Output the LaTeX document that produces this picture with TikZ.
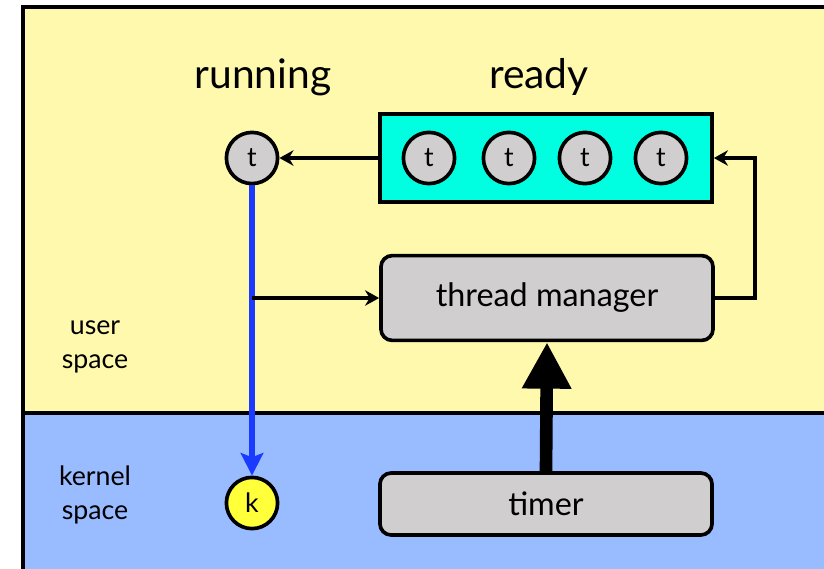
\documentclass[tikz,border=0pt]{standalone}
\usepackage{fontspec}
\setmainfont{Lato}
\usepackage{xcolor}
\definecolor{userbg}{HTML}{FFF9AD}
\definecolor{kernelbg}{HTML}{99BBFF}
\definecolor{queuebg}{HTML}{00FFE1}
\definecolor{tgrey}{HTML}{D0CECF}
\definecolor{kyellow}{HTML}{FFFF3A}
\definecolor{flowblue}{HTML}{1A3BFF}
\usetikzlibrary{arrows.meta}

\begin{document}
\begin{tikzpicture}[x=0.025cm, y=-0.025cm, >={Stealth[length=10pt, width=11pt]},
  every node/.style={font=\fontsize{23}{27}\selectfont},
  thread/.style={circle, draw, line width=2.6pt, fill=tgrey, minimum size=1.28cm, inner sep=0pt, font=\fontsize{19}{22}\selectfont},
  box/.style={draw, line width=2.6pt, fill=tgrey, rounded corners=8pt, minimum width=8.3cm}]
  \useasboundingbox (0,0) rectangle (824,568);
  \clip (0,0) rectangle (824,568);
  % user and kernel bands
  \fill[userbg] (23,7) rectangle (840,413);
  \fill[kernelbg] (23,413) rectangle (840,580);
  \draw[line width=2.8pt] (23,580) -- (23,7) -- (840,7);
  \draw[line width=2.8pt] (23,413) -- (840,413);
  \node[align=center, font=\fontsize{19}{24}\selectfont] (user) at (95,347) {user\\space};
  \node[align=center, font=\fontsize{19}{24}\selectfont] (kernel) at (95,495) {kernel\\space};

  % titles
  \node[font=\fontsize{29}{32}\selectfont] (running) at (263,77) {running};
  \node[font=\fontsize{29}{32}\selectfont] (ready) at (539,77) {ready};

  % ready queue with its threads
  \node[draw, line width=2.6pt, fill=queuebg, minimum width=8.3cm, minimum height=2.2cm] (queue) at (546,158) {};
  \foreach \x [count=\i] in {429,509,585,661}
    \node[thread] (t\i) at (\x,158) {t};

  % running thread and kernel thread
  \node[thread] (run) at (252,158) {t};
  \node[thread, fill=kyellow] (kern) at (252,503) {k};

  % thread manager and timer
  \node[box, minimum height=2.12cm] (manager) at (547,298) {thread manager};
  \node[box, minimum height=1.55cm] (timer) at (546,504) {timer};

  % connectors
  \draw[->, line width=2.4pt] (queue.west) -- (run.east);
  \draw[->, line width=2.4pt] (manager.east) -- ++(40,0) |- (queue.east);
  \draw[-{Stealth[length=16pt, width=16pt, inset=3pt]}, line width=3.8pt, flowblue] (run.south) -- (kern.north);
  \coordinate (fork) at (run.south |- manager.west);
  \draw[->, line width=2.4pt] (fork) -- (manager.west);
  \draw[-{Triangle[length=33pt, width=33pt]}, line width=9pt] (timer.north) -- (manager.south);
\end{tikzpicture}
\end{document}
